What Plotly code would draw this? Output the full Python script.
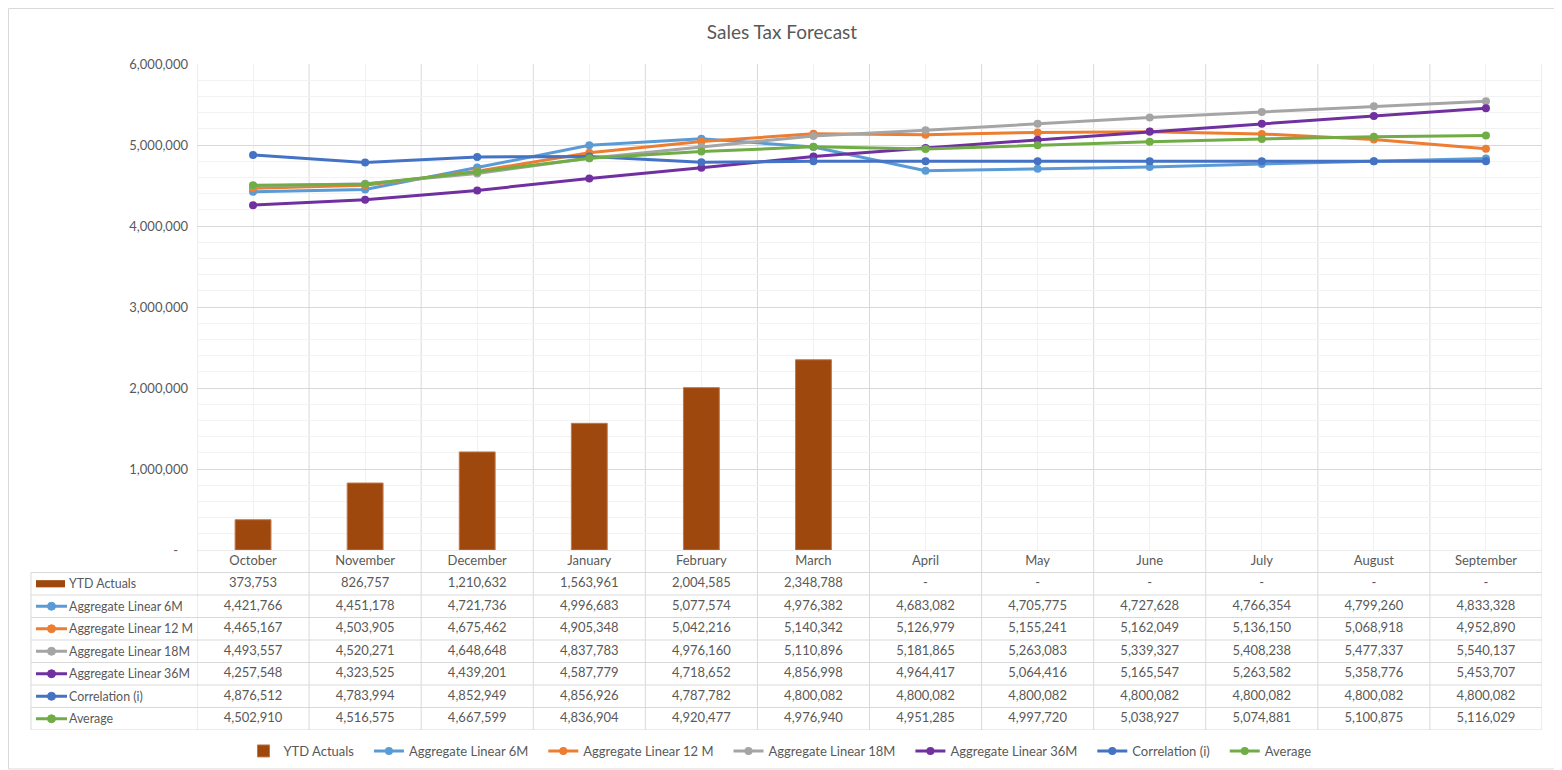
import plotly.graph_objects as go

# --- data -------------------------------------------------------------
months = ["October", "November", "December", "January", "February", "March",
          "April", "May", "June", "July", "August", "September"]

ytd_actuals = [373753, 826757, 1210632, 1563961, 2004585, 2348788,
               None, None, None, None, None, None]
agg_6m = [4421766, 4451178, 4721736, 4996683, 5077574, 4976382,
          4683082, 4705775, 4727628, 4766354, 4799260, 4833328]
agg_12m = [4465167, 4503905, 4675462, 4905348, 5042216, 5140342,
           5126979, 5155241, 5162049, 5136150, 5068918, 4952890]
agg_18m = [4493557, 4520271, 4648648, 4837783, 4976160, 5110896,
           5181865, 5263083, 5339327, 5408238, 5477337, 5540137]
agg_36m = [4257548, 4323525, 4439201, 4587779, 4718652, 4856998,
           4964417, 5064416, 5165547, 5263582, 5358776, 5453707]
correlation = [4876512, 4783994, 4852949, 4856926, 4787782, 4800082,
               4800082, 4800082, 4800082, 4800082, 4800082, 4800082]
average = [4502910, 4516575, 4667599, 4836904, 4920477, 4976940,
           4951285, 4997720, 5038927, 5074881, 5100875, 5116029]

y_ticks = [0, 1000000, 2000000, 3000000, 4000000, 5000000, 6000000]

# --- style ------------------------------------------------------------
OFF = 8  # default body margin of the html page
W, H = 1562 - OFF, 770 - OFF
# plot area in screen pixels
P_LEFT, P_RIGHT, P_TOP, P_BOTTOM = 197, 1542, 64, 730
L, R, T, B = P_LEFT - OFF, 1562 - P_RIGHT, P_TOP - OFF, 770 - P_BOTTOM
PW, PH = W - L - R, H - T - B
FONT = "Lato"
FS = 13
GREY = "#595959"
GRID = "#d9d9d9"
GRID_MINOR = "#f2f2f2"
BAR_COLOR = "#9e480e"
PAD = "\u00a0\u00a0\u00a0"

series = [
    ("Aggregate Linear 6M", agg_6m, "#5b9bd5"),
    ("Aggregate Linear 12 M", agg_12m, "#ed7d31"),
    ("Aggregate Linear 18M", agg_18m, "#a5a5a5"),
    ("Aggregate Linear 36M", agg_36m, "#7030a0"),
    ("Correlation (i)", correlation, "#4472c4"),
    ("Average", average, "#70ad47"),
]


def px_x(px):
    """Screen x -> paper x."""
    return (px - P_LEFT) / PW


def px_y(py):
    """Screen y -> paper y."""
    return (P_BOTTOM - py) / PH


idx = list(range(len(months)))
split = px_y(550)

fig = go.Figure()

# bars
fig.add_trace(
    go.Bar(
        x=idx,
        y=ytd_actuals,
        name="YTD Actuals" + PAD,
        marker=dict(color=BAR_COLOR, line=dict(color="#c0794a", width=1)),
        width=0.32,
    )
)

# forecast lines
for name, vals, color in series:
    fig.add_trace(
        go.Scatter(
            x=idx,
            y=vals,
            name=name + PAD,
            mode="lines+markers",
            line=dict(color=color, width=3),
            marker=dict(color=color, size=8),
        )
    )

# data table: header + rows as text on a second axis pair
table_rows = [("YTD Actuals", ytd_actuals, BAR_COLOR)] + list(series)
fig.add_trace(
    go.Scatter(
        x=idx,
        y=[0] * len(idx),
        mode="text",
        text=months,
        textfont=dict(family=FONT, size=FS, color=GREY),
        xaxis="x2",
        yaxis="y2",
        showlegend=False,
        hoverinfo="skip",
    )
)
for r, (name, vals, color) in enumerate(table_rows, 1):
    fig.add_trace(
        go.Scatter(
            x=idx,
            y=[r] * len(idx),
            mode="text",
            text=[f"{v:,}" if v is not None else "-" for v in vals],
            textfont=dict(family=FONT, size=FS, color=GREY),
            xaxis="x2",
            yaxis="y2",
            showlegend=False,
            hoverinfo="skip",
        )
    )

shapes = []
annotations = []
n_rows = len(table_rows)

# outer chart border
shapes.append(
    dict(type="rect", xref="paper", yref="paper",
         x0=px_x(8.5), x1=px_x(1559), y0=px_y(769), y1=px_y(8.5),
         line=dict(color=GRID, width=1), layer="below")
)
# vertical category boundaries through plot and table
for k in range(len(months) + 1):
    shapes.append(
        dict(type="line", xref="x", yref="paper",
             x0=k - 0.5, x1=k - 0.5, y0=0, y1=1,
             line=dict(color=GRID, width=1), layer="below")
    )
# horizontal table lines
shapes.append(
    dict(type="line", xref="paper", yref="y2", x0=0, x1=1,
         y0=-0.5, y1=-0.5, line=dict(color=GRID, width=1))
)
for r in range(n_rows + 1):
    shapes.append(
        dict(type="line", xref="paper", yref="y2", x0=px_x(31), x1=1,
             y0=r + 0.5, y1=r + 0.5, line=dict(color=GRID, width=1))
    )
shapes.append(
    dict(type="line", xref="paper", yref="y2", x0=px_x(31), x1=px_x(31),
         y0=0.5, y1=n_rows + 0.5, line=dict(color=GRID, width=1))
)

# row labels with legend keys
for r, (name, vals, color) in enumerate(table_rows, 1):
    if r == 1:
        shapes.append(
            dict(type="rect", xref="paper", yref="y2",
                 x0=px_x(36), x1=px_x(65), y0=r - 0.16, y1=r + 0.16,
                 fillcolor=color, line=dict(width=0))
        )
    else:
        shapes.append(
            dict(type="line", xref="paper", yref="y2",
                 x0=px_x(36), x1=px_x(67), y0=r, y1=r,
                 line=dict(color=color, width=3))
        )
        shapes.append(
            dict(type="circle", xref="paper", yref="y2",
                 xsizemode="pixel", ysizemode="pixel",
                 xanchor=px_x(51.5), yanchor=r,
                 x0=-4, x1=4, y0=-4, y1=4,
                 fillcolor=color, line=dict(color=color, width=1))
        )
    annotations.append(
        dict(xref="paper", yref="y2", x=px_x(67), y=r,
             xanchor="left", yanchor="middle", text=name, showarrow=False,
             font=dict(family=FONT, size=12.4, color=GREY))
    )

fig.update_layout(
    width=W,
    height=H,
    paper_bgcolor="white",
    plot_bgcolor="white",
    margin=dict(l=L, r=R, t=T, b=B, autoexpand=False),
    font=dict(family=FONT, size=FS, color=GREY),
    title=dict(
        text="Sales Tax Forecast",
        x=px_x(782) * PW / W + L / W,
        xanchor="center",
        y=1 - (32 - OFF) / H,
        yanchor="middle",
        font=dict(family=FONT, size=19, color=GREY),
    ),
    xaxis=dict(
        range=[-0.5, len(months) - 0.5],
        tickvals=idx,
        showticklabels=False,
        showgrid=True,
        gridcolor=GRID_MINOR,
        zeroline=False,
        anchor="y",
    ),
    yaxis=dict(
        domain=[split, 1],
        range=[0, 6000000],
        tickvals=y_ticks,
        ticktext=["-\u00a0\u00a0\u00a0"] + [f"{v:,}" for v in y_ticks[1:]],
        tickfont=dict(family=FONT, size=FS, color=GREY),
        ticklabelstandoff=8,
        gridcolor=GRID,
        minor=dict(dtick=200000, showgrid=True, gridcolor=GRID_MINOR),
        zeroline=False,
        showline=False,
    ),
    xaxis2=dict(
        matches="x",
        anchor="y2",
        showticklabels=False,
        showgrid=False,
        zeroline=False,
    ),
    yaxis2=dict(
        domain=[0, split],
        range=[n_rows + 0.5, -0.5],
        showticklabels=False,
        showgrid=False,
        zeroline=False,
    ),
    showlegend=True,
    legend=dict(
        orientation="h",
        x=px_x(785),
        xanchor="center",
        y=px_y(751),
        yanchor="middle",
        font=dict(family=FONT, size=FS, color=GREY),
        bgcolor="rgba(0,0,0,0)",
    ),
    shapes=shapes,
    annotations=annotations,
    hovermode=False,
)

fig.write_html("out.html")
